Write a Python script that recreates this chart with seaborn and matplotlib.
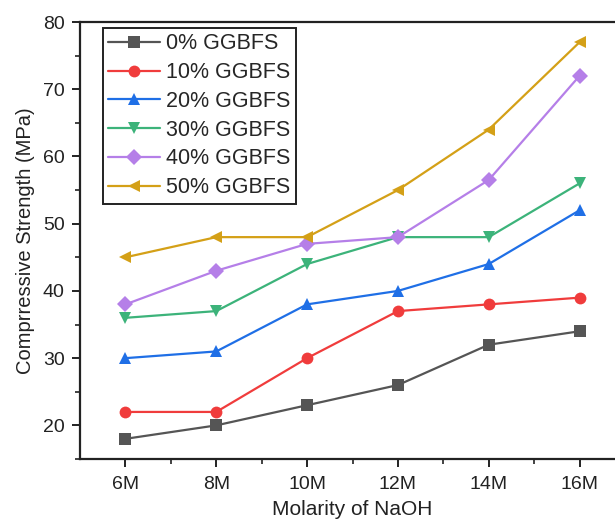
import matplotlib
matplotlib.use("Agg")
import matplotlib.pyplot as plt
import seaborn as sns
import pandas as pd
from matplotlib.ticker import MultipleLocator

molarity = ["6M", "8M", "10M", "12M", "14M", "16M"]
series_names = ["0% GGBFS", "10% GGBFS", "20% GGBFS", "30% GGBFS", "40% GGBFS", "50% GGBFS"]
ggbfs_0 = [18, 20, 23, 26, 32, 34]
ggbfs_10 = [22, 22, 30, 37, 38, 39]
ggbfs_20 = [30, 31, 38, 40, 44, 52]
ggbfs_30 = [36, 37, 44, 48, 48, 56]
ggbfs_40 = [38, 43, 47, 48, 56.5, 72]
ggbfs_50 = [45, 48, 48, 55, 64, 77]
y_ticks = [20, 30, 40, 50, 60, 70, 80]

all_values = [ggbfs_0, ggbfs_10, ggbfs_20, ggbfs_30, ggbfs_40, ggbfs_50]
rows = []
for name, vals in zip(series_names, all_values):
    for m, v in zip(molarity, vals):
        rows.append({"Molarity": m, "Strength": v, "Series": name})
df = pd.DataFrame(rows)

colors = ["#555555", "#f03c3c", "#1f6fe6", "#3cb37a", "#b57fe8", "#d4a017"]
markers = ["s", "o", "^", "v", "D", "<"]

sns.set_style("ticks")
plt.rcParams["font.family"] = ["Liberation Sans", "DejaVu Sans"]

fig = plt.figure(figsize=(6.15, 5.24), dpi=100)
ax = fig.add_axes([80 / 615, 65 / 524, 545 / 615, 437 / 524])

sns.lineplot(data=df, x="Molarity", y="Strength", hue="Series", style="Series",
             palette=colors, markers=markers, dashes=False, markersize=8.5,
             linewidth=1.6, markeredgewidth=0, ax=ax, sort=False)

ax.set_xlim(-0.5, 5.5)
ax.set_ylim(15, 80)
ax.set_yticks(y_ticks)
ax.yaxis.set_minor_locator(MultipleLocator(5))
ax.set_xticks(range(len(molarity)))
ax.set_xticklabels(molarity)
ax.set_xticks([i + 0.5 for i in range(len(molarity) - 1)], minor=True)

for s in ["left", "bottom", "top"]:
    ax.spines[s].set_linewidth(1.6)
    ax.spines[s].set_color("#222222")
ax.spines["right"].set_visible(False)

ax.tick_params(axis="both", which="major", direction="out", length=6, width=1.4,
               labelsize=14, colors="#222222", pad=5)
ax.tick_params(axis="both", which="minor", direction="out", length=3.5, width=1.2,
               colors="#222222")
ax.tick_params(axis="x", which="major", pad=6)

ax.set_xlabel("Molarity of NaOH", fontsize=15, color="#222222", labelpad=5)
ax.set_ylabel("Comprressive Strength (MPa)", fontsize=14.5, color="#222222", labelpad=6)

leg = ax.legend(loc="upper left", bbox_to_anchor=(0.042, 0.986), fontsize=15.5,
                frameon=True, fancybox=False, edgecolor="#222222",
                handlelength=2.4, labelspacing=0.36, borderpad=0.25,
                handletextpad=0.3, borderaxespad=0)
leg.get_frame().set_linewidth(1.4)
leg.get_frame().set_alpha(1)

fig.savefig("out.png", dpi=100)
